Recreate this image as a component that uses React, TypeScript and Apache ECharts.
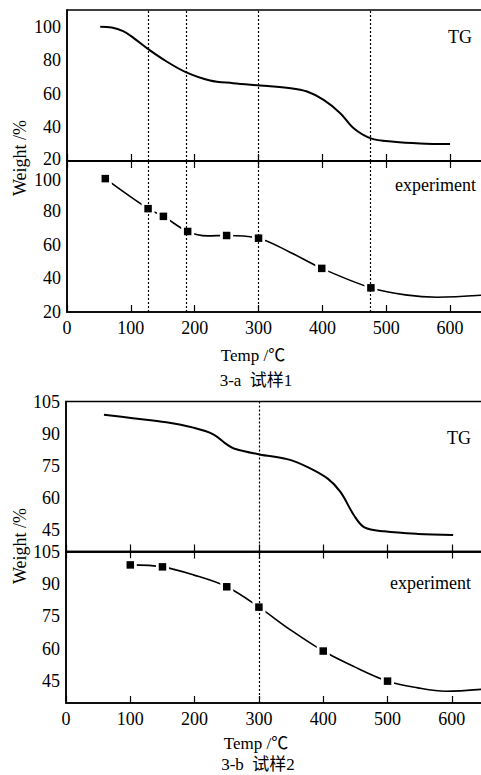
import React, { useEffect, useRef } from "react";
import * as echarts from "echarts";

// ---- data ----
const tempMax = 650;
const tempInterval = 100;

// 3-a  试样1
const tgA: number[][] = [
  [52, 100], [70, 99.6], [88, 97.4], [104, 93.4], [130, 85.9], [156, 79.3],
  [186, 73], [224, 68], [260, 66.4], [302, 65], [350, 63.4], [376, 61.4],
  [402, 56.4], [428, 48.5], [449, 39.5], [476, 33.5], [512, 31.5], [553, 30.5], [600, 30.1],
];
const expAMarkers: number[][] = [
  [60, 99.5], [127, 81.6], [151, 77], [189, 68], [250, 65.6], [300, 64], [399, 46], [476, 34.4],
];
const expACurve: number[][] = [
  [60, 99.5], [127, 81.6], [151, 77], [189, 68], [220, 65.4], [250, 65.6], [300, 64],
  [350, 55.5], [399, 46], [476, 34.4], [530, 30.2], [580, 28.8], [650, 30],
];
const dividersA = [128, 186, 300, 475];
const yTicksA = [20, 40, 60, 80, 100];

// 3-b  试样2
const tgB: number[][] = [
  [59, 98.8], [104, 97.2], [156, 95.3], [198, 92.8], [229, 89.7], [250, 85], [261, 83.1],
  [301, 80.3], [344, 78.1], [375, 74.5], [407, 69], [427, 62.7], [448, 51.8], [464, 46.3],
  [495, 44.4], [547, 43.2], [602, 42.7],
];
const expBMarkers: number[][] = [
  [100, 98.8], [150, 97.9], [250, 88.7], [300, 79.3], [400, 59], [500, 45.1],
];
const expBCurve: number[][] = [
  [100, 98.8], [150, 97.9], [198, 94.2], [250, 88.7], [300, 79.3], [349, 68.8], [400, 59],
  [448, 51.8], [500, 45.1], [547, 42], [590, 40.4], [650, 41.4],
];
const dividersB = [300];
const yTicksB = [45, 60, 75, 90, 105];

const FONT = "'Liberation Serif', 'Times New Roman', 'Noto Sans CJK SC', serif";
const BLACK = "#000";

export default function App() {
  const ref = useRef<HTMLDivElement>(null);

  useEffect(() => {
    if (!ref.current) return;
    const chart = echarts.init(ref.current, undefined, { renderer: "svg" });

    const grids = [
      { left: 67, top: 10, width: 415, height: 151 },
      { left: 67, top: 161, width: 415, height: 151 },
      { left: 66, top: 401.5, width: 418, height: 150 },
      { left: 66, top: 551.5, width: 418, height: 151.5 },
    ].map((g) => ({
      ...g,
      show: true,
      borderColor: BLACK,
      borderWidth: 1.5,
      backgroundColor: "transparent",
      containLabel: false,
      outerBoundsMode: "none",
    }));

    const xAxes: any[] = [];
    const mainX: number[] = [];
    grids.forEach((_, g) => {
      const isBottom = g % 2 === 1;
      mainX.push(xAxes.length);
      xAxes.push({
        type: "value",
        gridIndex: g,
        position: "bottom",
        min: 0,
        max: tempMax,
        interval: tempInterval,
        axisLine: { show: true, onZero: false, lineStyle: { color: BLACK, width: 1.5 } },
        axisTick: { show: true, inside: true, length: 7, lineStyle: { color: BLACK, width: 1.2 } },
        axisLabel: {
          show: isBottom,
          margin: 7,
          color: BLACK,
          fontFamily: FONT,
          fontSize: 18,
          showMaxLabel: false,
          formatter: (v: number) => (v > 600 ? "" : String(v)),
        },
        splitLine: { show: false },
      });
      if (isBottom) {
        xAxes.push({
          type: "value",
          gridIndex: g,
          position: "top",
          min: 0,
          max: tempMax,
          interval: tempInterval,
          axisLine: { show: true, onZero: false, lineStyle: { color: BLACK, width: 1.5 } },
          axisTick: { show: true, inside: true, length: 7, lineStyle: { color: BLACK, width: 1.2 } },
          axisLabel: { show: false },
          splitLine: { show: false },
        });
      }
    });

    const richBase = { color: BLACK, fontFamily: FONT, fontSize: 18, lineHeight: 14 };

    const yAxes = grids.map((_, g) => {
      const isA = g < 2;
      const isTop = g % 2 === 0;
      const ticks = isA ? yTicksA : yTicksB;
      const lo = ticks[0];
      const hi = ticks[ticks.length - 1];
      return {
        type: "value",
        gridIndex: g,
        min: isA ? 20 : 35,
        max: isA ? 110 : 105,
        interval: isA ? 10 : 5,
        axisLine: { show: true, onZero: false, lineStyle: { color: BLACK, width: 1.5 } },
        axisTick: { show: false },
        splitLine: { show: false },
        axisLabel: {
          margin: 6,
          color: BLACK,
          fontFamily: FONT,
          fontSize: 18,
          lineHeight: 14,
          showMinLabel: true,
          showMaxLabel: true,
          rich: {
            up: { ...richBase, padding: [0, 0, 4, 0] },
            dn: { ...richBase, padding: [4, 0, 0, 0] },
          },
          formatter: (v: number) => {
            if (ticks.indexOf(v) < 0) return "";
            if (isA && isTop && v === lo) return `{up|${v}}`;
            if (isA && !isTop && v === hi) return `{dn|${v}}`;
            return String(v);
          },
        },
      };
    });

    const divider = (vals: number[]) => ({
      silent: true,
      symbol: ["none", "none"],
      label: { show: false },
      lineStyle: { type: [2, 2], color: BLACK, width: 1.2, opacity: 1 },
      data: vals.map((v) => ({ xAxis: v })),
    });

    const curve = (g: number, data: number[][], width: number, dividers: number[]) => ({
      type: "line",
      xAxisIndex: mainX[g],
      yAxisIndex: g,
      data,
      smooth: 0.35,
      symbol: "none",
      showSymbol: false,
      silent: true,
      lineStyle: { color: BLACK, width },
      z: 2,
      markLine: divider(dividers),
    });

    const markers = (g: number, data: number[][]) => [
      {
        type: "scatter",
        xAxisIndex: mainX[g],
        yAxisIndex: g,
        data,
        symbol: "rect",
        symbolSize: 13,
        silent: true,
        itemStyle: { color: "#fff", opacity: 1 },
        z: 3,
      },
      {
        type: "scatter",
        xAxisIndex: mainX[g],
        yAxisIndex: g,
        data,
        symbol: "rect",
        symbolSize: 7.5,
        silent: true,
        itemStyle: { color: BLACK, opacity: 1 },
        z: 4,
      },
    ];

    const text = (t: string, x: number, y: number, align: string, size = 18, extra: any = {}) => ({
      type: "text",
      x,
      y,
      silent: true,
      ...extra,
      style: {
        text: t,
        fill: BLACK,
        fontFamily: FONT,
        fontSize: size,
        textAlign: align,
        textVerticalAlign: "middle",
      },
    });

    chart.setOption({
      animation: false,
      backgroundColor: "#fff",
      textStyle: { fontFamily: FONT },
      grid: grids,
      xAxis: xAxes,
      yAxis: yAxes,
      series: [
        curve(0, tgA, 2, dividersA),
        curve(1, expACurve, 1.6, dividersA),
        ...markers(1, expAMarkers),
        curve(2, tgB, 2, dividersB),
        curve(3, expBCurve, 1.6, dividersB),
        ...markers(3, expBMarkers),
      ],
      graphic: [
        text("TG", 472, 37, "right"),
        text("experiment", 476, 185, "right"),
        text("TG", 471, 438, "right"),
        text("experiment", 471, 583, "right"),
        text("Weight /%", 20, 158, "center", 18, { rotation: Math.PI / 2 }),
        text("Weight /%", 20, 546, "center", 18, { rotation: Math.PI / 2 }),
        text("Temp /\u2103", 253, 355, "center", 17),
        text("3-a\u2002\u8bd5\u68371", 256, 380, "center", 17),
        text("Temp /\u2103", 256, 743, "center", 17),
        text("3-b\u2002\u8bd5\u68372", 258, 764, "center", 17),
      ],
    });

    return () => chart.dispose();
  }, []);

  return (
    <div
      ref={ref}
      style={{ position: "absolute", left: 0, top: 0, width: 481, height: 775, background: "#fff" }}
    />
  );
}
